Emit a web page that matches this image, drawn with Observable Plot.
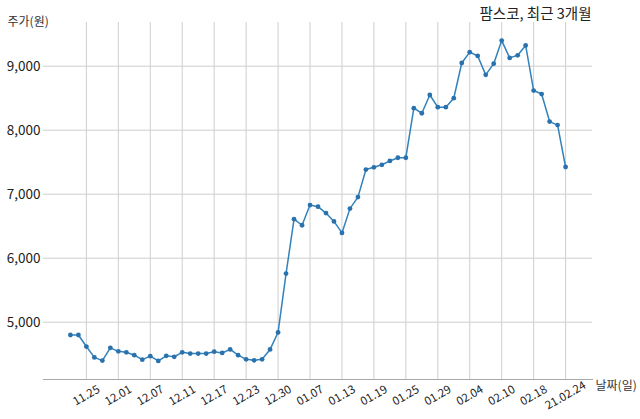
<!DOCTYPE html>
<html>
<head>
<meta charset="utf-8">
<script src="https://cdn.jsdelivr.net/npm/d3@7"></script>
<script src="https://cdn.jsdelivr.net/npm/@observablehq/plot@0.6"></script>
<style>
  html, body { margin: 0; padding: 0; background: #fff; }
  #chart svg { display: block; }
</style>
</head>
<body>
<div id="chart"></div>
<script>
const dates = ["11.23","11.24","11.25","11.26","11.27","11.30","12.01","12.02","12.03","12.04",
  "12.07","12.08","12.09","12.10","12.11","12.14","12.15","12.16","12.17","12.18",
  "12.21","12.22","12.23","12.24","12.28","12.29","12.30","01.04","01.05","01.06",
  "01.07","01.08","01.11","01.12","01.13","01.14","01.15","01.18","01.19","01.20",
  "01.21","01.22","01.25","01.26","01.27","01.28","01.29","02.01","02.02","02.03",
  "02.04","02.05","02.08","02.09","02.10","02.15","02.16","02.17","02.18","02.19",
  "02.22","02.23","02.24"];
const prices = [4800,4800,4620,4450,4400,4600,4545,4530,4485,4415,
  4470,4395,4475,4460,4530,4510,4510,4510,4540,4520,
  4575,4485,4420,4405,4420,4575,4840,5760,6610,6515,
  6830,6805,6705,6575,6395,6775,6955,7385,7420,7460,
  7520,7570,7570,8345,8265,8550,8360,8360,8500,9050,
  9220,9160,8865,9040,9400,9130,9170,9325,8620,8565,
  8135,8080,7425];
const tickDates = ["11.25","12.01","12.07","12.11","12.17","12.23","12.30","01.07",
  "01.13","01.19","01.25","01.29","02.04","02.10","02.18","02.24"];
const tickLabels = ["11.25","12.01","12.07","12.11","12.17","12.23","12.30","01.07",
  "01.13","01.19","01.25","01.29","02.04","02.10","02.18","21.02.24"];
const yTicks = [5000, 6000, 7000, 8000, 9000];
const title = "팜스코, 최근 3개월";
const yLabel = "주가(원)";
const xLabel = "날짜(일)";

const data = dates.map((d, i) => ({date: d, price: prices[i]}));
const ticks = tickDates.map((d, i) => ({date: d, label: tickLabels[i]}));
const font = "'Noto Sans CJK KR', 'Noto Sans', sans-serif";

const chart = Plot.plot({
  width: 640,
  height: 419,
  marginLeft: 43,
  marginRight: 48,
  marginTop: 22,
  marginBottom: 40,
  style: {fontFamily: font, background: "#fff"},
  x: {type: "point", domain: dates, padding: 3.37, axis: null},
  y: {domain: [4105, 9683], axis: null},
  marks: [
    Plot.gridY(yTicks, {stroke: "#cfcfcf", strokeOpacity: 1, strokeWidth: 1}),
    Plot.gridX(tickDates, {stroke: "#cfcfcf", strokeOpacity: 1, strokeWidth: 1}),
    Plot.frame({anchor: "bottom", stroke: "#a8a8a8", strokeWidth: 1}),
    Plot.axisY(yTicks, {tickSize: 0, tickPadding: 3, fontSize: 13.5, fill: "#222",
      label: null, tickFormat: d3.format(",")}),
    Plot.text(ticks, {x: "date", text: "label", frameAnchor: "bottom", dy: 16,
      rotate: -30, textAnchor: "middle", lineAnchor: "middle", fontSize: 11.5, fill: "#222"}),
    Plot.line(data, {x: "date", y: "price", stroke: "#3282bb", strokeWidth: 1.5}),
    Plot.dot(data, {x: "date", y: "price", r: 2.4, fill: "#2a72ad", stroke: "none"}),
    Plot.text([title], {frameAnchor: "top-right", dx: -1, dy: -14, fontSize: 14.5,
      fill: "#222", textAnchor: "end"}),
    Plot.text([yLabel], {frameAnchor: "top-left", dx: -36, dy: -5, fontSize: 12,
      fill: "#333", textAnchor: "start"}),
    Plot.text([xLabel], {frameAnchor: "bottom-right", dx: 3, dy: 10, fontSize: 12,
      fill: "#333", textAnchor: "start"})
  ]
});
document.getElementById("chart").appendChild(chart);
</script>
</body>
</html>
